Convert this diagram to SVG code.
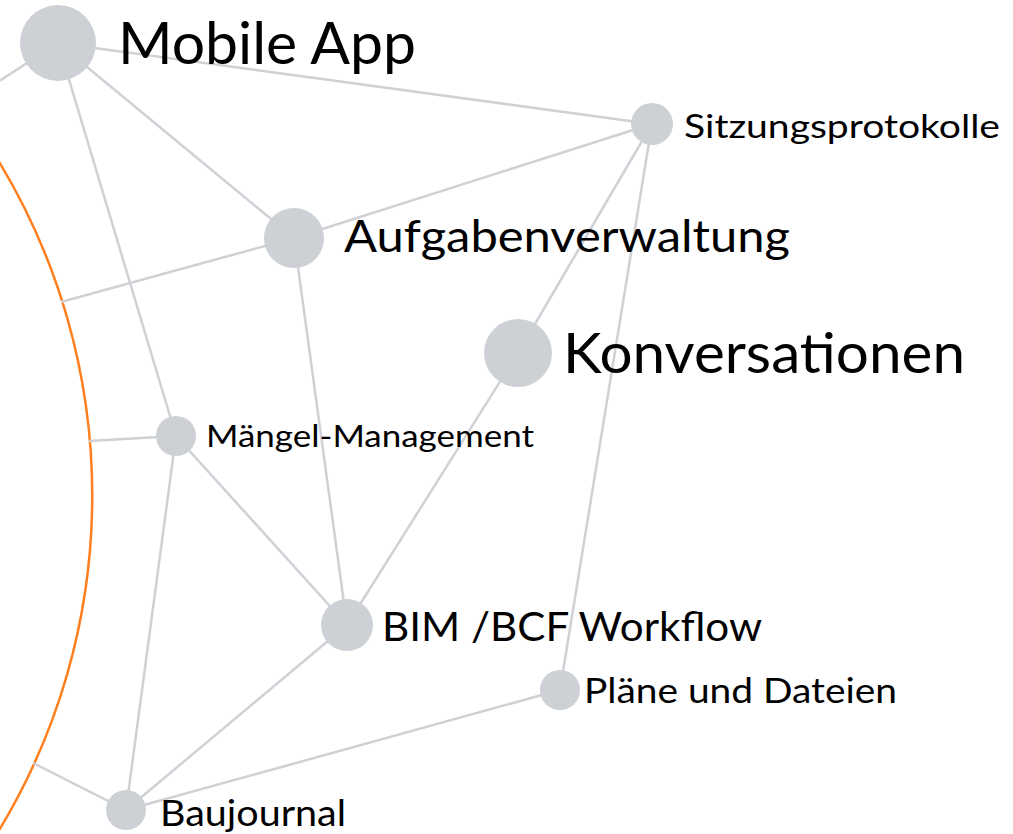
<svg xmlns="http://www.w3.org/2000/svg" width="1013" height="834" viewBox="0 0 1013 834">
<style>
.edge{stroke:#d0d1d6;stroke-width:2.5;fill:none}
.node{fill:#cdd0d5}
.lbl{font-family:Lato,"Open Sans","Liberation Sans",sans-serif;fill:#000}
</style>
<rect width="1013" height="834" fill="#fff"/>
<path d="M -2 160 A 646 646 0 0 1 -2 832" fill="none" stroke="#ff7f1e" stroke-width="2.5" transform="translate(0,0)"/>
<g id="connectors">
<line class="edge" x1="58" y1="43" x2="-10" y2="87"/>
<line class="edge" x1="58" y1="43" x2="652" y2="124"/>
<line class="edge" x1="58" y1="43" x2="294" y2="238"/>
<line class="edge" x1="58" y1="43" x2="176" y2="436"/>
<line class="edge" x1="294" y1="238" x2="652" y2="124"/>
<line class="edge" x1="294" y1="238" x2="61" y2="302"/>
<line class="edge" x1="294" y1="238" x2="347" y2="625"/>
<line class="edge" x1="652" y1="124" x2="518" y2="353"/>
<line class="edge" x1="652" y1="124" x2="560" y2="690"/>
<line class="edge" x1="518" y1="353" x2="347" y2="625"/>
<line class="edge" x1="176" y1="436" x2="89" y2="441"/>
<line class="edge" x1="176" y1="436" x2="347" y2="625"/>
<line class="edge" x1="176" y1="436" x2="126" y2="810"/>
<line class="edge" x1="347" y1="625" x2="126" y2="810"/>
<line class="edge" x1="560" y1="690" x2="126" y2="810"/>
<line class="edge" x1="126" y1="810" x2="33" y2="763"/>
</g>
<g id="mobile-app"><circle class="node" cx="58" cy="43" r="38"/><text class="lbl" x="118" y="64" font-size="58" textLength="298" lengthAdjust="spacingAndGlyphs">Mobile App</text></g>
<g id="sitzungsprotokolle"><circle class="node" cx="652" cy="124" r="21"/><text class="lbl" x="684" y="138" font-size="32" textLength="316" lengthAdjust="spacingAndGlyphs">Sitzungsprotokolle</text></g>
<g id="aufgabenverwaltung"><circle class="node" cx="294" cy="238" r="30"/><text class="lbl" x="344" y="252" font-size="44" textLength="446" lengthAdjust="spacingAndGlyphs">Aufgabenverwaltung</text></g>
<g id="konversationen"><circle class="node" cx="518" cy="353" r="34"/><text class="lbl" x="563" y="373" font-size="56" textLength="402" lengthAdjust="spacingAndGlyphs">Konversationen</text></g>
<g id="maengel-management"><circle class="node" cx="176" cy="436" r="20"/><text class="lbl" x="206" y="447" font-size="30" textLength="328" lengthAdjust="spacingAndGlyphs">Mängel-Management</text></g>
<g id="bim-bcf-workflow"><circle class="node" cx="347" cy="625" r="26"/><text class="lbl" x="382" y="641" font-size="40" textLength="380" lengthAdjust="spacingAndGlyphs">BIM /BCF Workflow</text></g>
<g id="plaene-und-dateien"><circle class="node" cx="560" cy="690" r="20"/><text class="lbl" x="584" y="703" font-size="34" textLength="313" lengthAdjust="spacingAndGlyphs">Pläne und Dateien</text></g>
<g id="baujournal"><circle class="node" cx="126" cy="810" r="20"/><text class="lbl" x="160" y="826" font-size="36" textLength="186" lengthAdjust="spacingAndGlyphs">Baujournal</text></g>
</svg>
